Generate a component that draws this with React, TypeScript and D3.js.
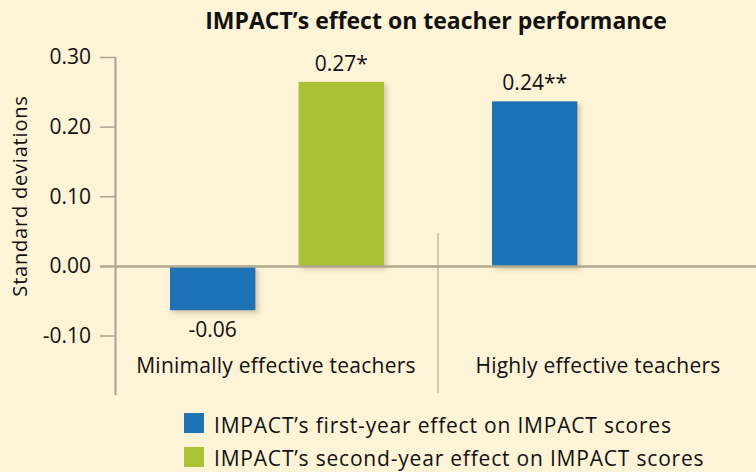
import React from "react";
import * as d3 from "d3";

const categories = ["Minimally effective teachers", "Highly effective teachers"];
const seriesKeys = ["first", "second"];
const seriesNames = [
  "IMPACT\u2019s first-year effect on IMPACT scores",
  "IMPACT\u2019s second-year effect on IMPACT scores",
];
const firstYear: (number | null)[] = [-0.063, 0.237];
const secondYear: (number | null)[] = [0.265, null];
const firstYearLabels = ["-0.06", "0.24**"];
const secondYearLabels = ["0.27*", ""];
const yTicks = [-0.1, 0.0, 0.1, 0.2, 0.3];
const yTickLabels = ["-0.10", "0.00", "0.10", "0.20", "0.30"];
const colors = ["#1f72b5", "#abc136"];

const W = 756;
const H = 472;
const FONT = "'Open Sans', 'DejaVu Sans', sans-serif";

export default function App() {
  const x0 = d3.scaleBand<string>().domain(categories).range([116, 760]).padding(0);
  const x1 = d3
    .scaleBand<string>()
    .domain(seriesKeys)
    .range([0, x0.bandwidth()])
    .paddingInner(0.336)
    .paddingOuter(0.42);
  const y = d3.scaleLinear().domain([-0.1, 0.3]).range([336, 57.5]);
  const series = [firstYear, secondYear];
  const labels = [firstYearLabels, secondYearLabels];
  const sepX = x0(categories[1])!;

  return (
    <svg
      width={W}
      height={H}
      style={{ position: "absolute", left: 0, top: 0, display: "block", fontFamily: FONT }}
    >
      <defs>
        <filter id="sh" x="-10%" y="-10%" width="130%" height="130%">
          <feDropShadow dx="3" dy="3" stdDeviation="2" floodColor="#8a7a50" floodOpacity="0.35" />
        </filter>
      </defs>
      <rect x={0} y={0} width={W} height={H} fill="#fdf3d6" />
      <text x={436} y={29} textAnchor="middle" fontSize={23} fontWeight="bold" fill="#111">
        IMPACT’s effect on teacher performance
      </text>
      {/* y axis */}
      <line x1={115.5} x2={115.5} y1={y(0.3)} y2={395} stroke="#aaa290" strokeWidth={2} />
      {yTicks.map((t, i) => (
        <g key={i}>
          {t !== 0 && <line x1={100} x2={116} y1={y(t)} y2={y(t)} stroke="#aaa290" strokeWidth={1.5} />}
          <text x={91} y={y(t)} dy="0.33em" textAnchor="end" fontSize={21} fill="#111">
            {yTickLabels[i]}
          </text>
        </g>
      ))}
      <text
        transform={`translate(27,${196}) rotate(-90)`}
        textAnchor="middle"
        fontSize={20}
        letterSpacing={0.8}
        fill="#111"
      >
        Standard deviations
      </text>
      {/* separator */}
      <line x1={sepX} x2={sepX} y1={233} y2={393} stroke="#aaa290" strokeWidth={1} />
      {/* bars */}
      {series.map((s, si) =>
        s.map((v, ci) => {
          if (v === null) return null;
          const bx = x0(categories[ci])! + x1(seriesKeys[si])!;
          const bw = x1.bandwidth();
          const top = y(Math.max(0, v));
          const bot = y(Math.min(0, v));
          const lbl = labels[si][ci];
          return (
            <g key={`${si}-${ci}`}>
              <rect x={bx} y={top} width={bw} height={bot - top} fill={colors[si]} filter="url(#sh)" />
              <text x={bx + bw / 2} y={v >= 0 ? top - 11 : bot + 27} textAnchor="middle" fontSize={21} fill="#111">
                {lbl}
              </text>
            </g>
          );
        })
      )}
      {/* zero line */}
      <line x1={100} x2={W} y1={y(0)} y2={y(0)} stroke="#b0a890" strokeWidth={2.5} />
      {/* category labels */}
      {categories.map((c) => (
        <text
          key={c}
          x={x0(c)! + x0.bandwidth() / 2 - 1}
          y={373}
          textAnchor="middle"
          fontSize={21}
          letterSpacing={0.25}
          fill="#111"
        >
          {c}
        </text>
      ))}
      {/* legend */}
      {seriesNames.map((n, i) => (
        <g key={n}>
          <rect x={184} y={413 + i * 34} width={20} height={20} fill={colors[i]} />
          <text x={214} y={433 + i * 33} fontSize={21} letterSpacing={0.8} fill="#111">
            {n}
          </text>
        </g>
      ))}
    </svg>
  );
}
